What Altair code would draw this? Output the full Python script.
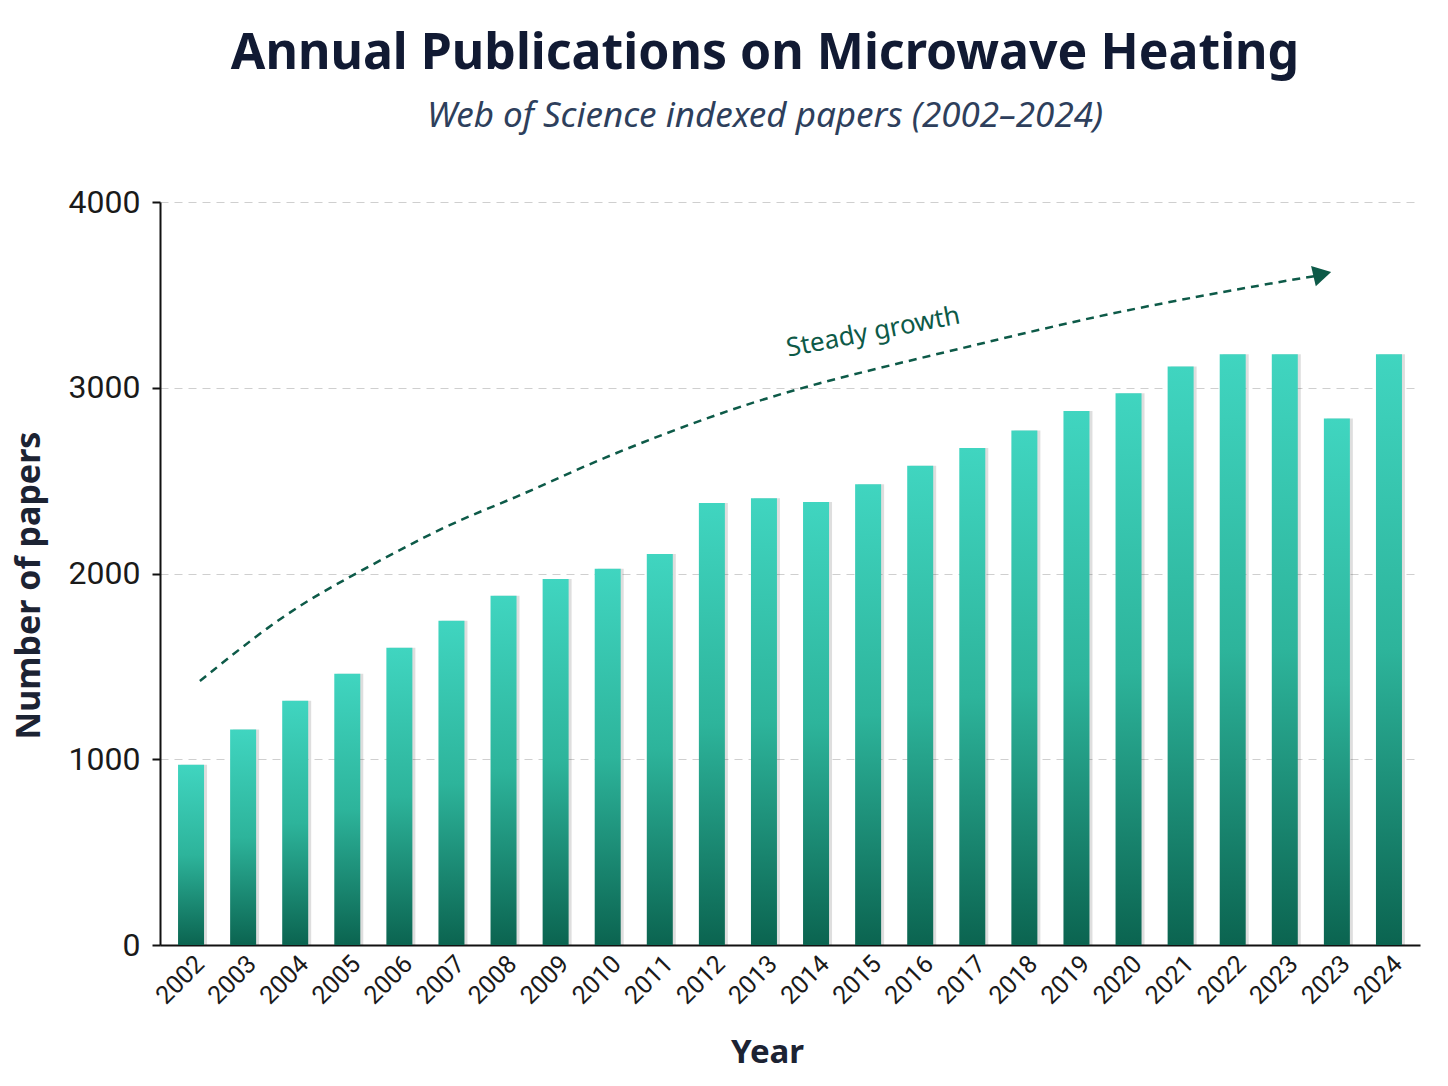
import altair as alt
import pandas as pd

labels = ["2002", "2003", "2004", "2005", "2006", "2007", "2008", "2009", "2010",
          "2011", "2012", "2013", "2014", "2015", "2016", "2017", "2018", "2019",
          "2020", "2021", "2022", "2023", "2023", "2024"]
papers = [970, 1160, 1315, 1460, 1600, 1745, 1880, 1970, 2025, 2105, 2380, 2405,
          2385, 2480, 2580, 2675, 2770, 2875, 2970, 3115, 3180, 3180, 2835, 3180]

trend_x = [0.17, 1.79, 3.18, 4.97, 6.23, 7.50, 8.78, 10.11, 11.83, 14.90, 17.45, 20.0, 21.45, 21.8]
trend_y = [1421, 1787, 2003, 2272, 2406, 2573, 2719, 2859, 3015, 3219, 3392, 3526, 3596, 3610]

arrow_x = [21.72]
arrow_y = [3612]

note_text = ["Steady growth"]
note_x = [13.1]
note_y = [3300]

bars = pd.DataFrame({"idx": list(range(len(labels))), "label": labels, "papers": papers})
trend = pd.DataFrame({"x": trend_x, "y": trend_y})
arrow = pd.DataFrame({"x": arrow_x, "y": arrow_y})
note = pd.DataFrame({"x": note_x, "y": note_y, "t": note_text})

label_js = "[" + ",".join("'" + l + "'" for l in labels) + "]"

tick_font = "Liberation Sans Narrow, Roboto, sans-serif"
title_font = "Noto Sans, Open Sans, sans-serif"

xscale = alt.Scale(domain=[-0.5, 23.5], nice=False, zero=False)
yscale = alt.Scale(domain=[0, 4000], nice=False)

x_axis = alt.Axis(
    values=list(range(len(labels))),
    labelExpr=label_js + "[datum.value]",
    labelAngle=-45,
    labelOverlap=False,
    labelFont=tick_font,
    labelFontSize=25,
    labelColor="#1a1a1a",
    labelPadding=6,
    ticks=False,
    grid=False,
    domainColor="#111111",
    domainWidth=2,
    title="Year",
    titleFont=title_font,
    titleFontSize=33,
    titleFontWeight="bold",
    titleColor="#1c2333",
    titlePadding=28,
    titleX=607,
)

y_axis = alt.Axis(
    values=[0, 1000, 2000, 3000, 4000],
    format="d",
    labelFont=tick_font,
    labelFontSize=32,
    labelColor="#1a1a1a",
    labelPadding=12,
    tickColor="#111111",
    tickSize=8,
    tickWidth=2,
    domainColor="#111111",
    domainWidth=2,
    grid=True,
    gridColor="#cfcfcf",
    gridDash=[8, 6],
    gridWidth=1.2,
    title="Number of papers",
    titleFont=title_font,
    titleFontSize=34,
    titleFontWeight="bold",
    titleColor="#1c2333",
    titlePadding=22,
    titleY=383,
)

shadow = alt.Chart(bars).mark_bar(size=26, color="#000000", opacity=0.13, xOffset=3).encode(
    x=alt.X("idx:Q", scale=xscale, axis=x_axis),
    y=alt.Y("papers:Q", scale=yscale, axis=y_axis),
)

bar = alt.Chart(bars).mark_bar(
    size=26,
    color={
        "gradient": "linear",
        "x1": 0, "y1": 0, "x2": 0, "y2": 1,
        "stops": [
            {"offset": 0, "color": "#40d5c0"},
            {"offset": 0.5, "color": "#2db49b"},
            {"offset": 1, "color": "#0b6450"},
        ],
    },
).encode(
    x=alt.X("idx:Q", scale=xscale),
    y=alt.Y("papers:Q", scale=yscale),
)

line = alt.Chart(trend).mark_line(
    color="#0d5a48", strokeDash=[8, 6], strokeWidth=2.5, interpolate="basis"
).encode(
    x=alt.X("x:Q", scale=xscale),
    y=alt.Y("y:Q", scale=yscale),
)

head = alt.Chart(arrow).mark_point(
    shape="triangle-right", filled=True, color="#0d5a48", size=440, angle=347, opacity=1
).encode(
    x=alt.X("x:Q", scale=xscale),
    y=alt.Y("y:Q", scale=yscale),
)

text = alt.Chart(note).mark_text(
    font=title_font, fontSize=26, color="#0d5a48", angle=349
).encode(
    x=alt.X("x:Q", scale=xscale),
    y=alt.Y("y:Q", scale=yscale),
    text="t:N",
)

chart = alt.layer(shadow, bar, line, head, text).properties(
    width=1260,
    height=743,
    background="white",
    autosize=alt.AutoSizeParams(type="none"),
    padding={"left": 152, "top": 194, "right": 20, "bottom": 130},
    title=alt.TitleParams(
        text="Annual Publications on Microwave Heating",
        subtitle="Web of Science indexed papers (2002\u20132024)",
        font=title_font,
        fontSize=50,
        fontWeight="bold",
        color="#111a33",
        subtitleFont=title_font,
        subtitleFontSize=35,
        subtitleFontStyle="italic",
        subtitleColor="#2e3f5c",
        subtitlePadding=20,
        anchor="middle",
        dx=-25,
        offset=52,
    ),
).configure_view(strokeWidth=0, stroke="transparent")

chart.save("out.html", embed_options={"renderer": "svg", "actions": False})
